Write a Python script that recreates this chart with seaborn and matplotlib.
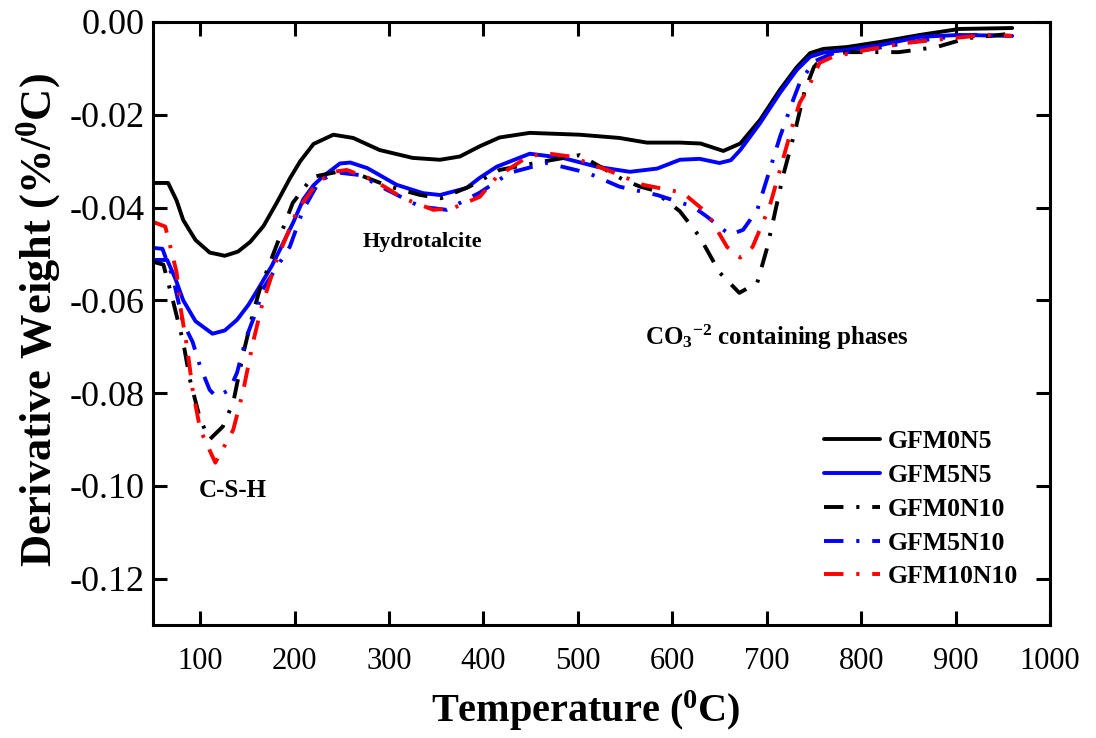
import matplotlib
matplotlib.use("Agg")
import matplotlib.pyplot as plt
import pandas as pd
import seaborn as sns

# ---------------- data ----------------
samples = ["GFM0N5", "GFM5N5", "GFM0N10", "GFM5N10", "GFM10N10"]

t_m0n5 = [50, 66, 75, 82, 95, 110, 126, 140, 153, 167, 181, 195, 206, 220, 241, 262,
          290, 325, 354, 375, 396, 417, 449, 502, 544, 573, 608, 630, 654, 672, 693,
          714, 732, 746, 760, 785, 820, 862, 904, 960]
dw_m0n5 = [-0.0347, -0.0347, -0.0385, -0.0427, -0.0470, -0.0497, -0.0504, -0.0495,
           -0.0474, -0.0440, -0.0390, -0.0337, -0.0300, -0.0263, -0.0243, -0.0250,
           -0.0276, -0.0293, -0.0297, -0.0290, -0.0268, -0.0249, -0.0239, -0.0243,
           -0.0250, -0.0260, -0.0260, -0.0262, -0.0278, -0.0262, -0.0211, -0.0146,
           -0.0097, -0.0067, -0.0058, -0.0054, -0.0043, -0.0028, -0.0015, -0.0013]

t_m5n5 = [50, 65, 74, 82, 95, 113, 126, 139, 151, 163, 176, 188, 199, 209, 220, 230,
          248, 259, 277, 308, 336, 354, 382, 396, 414, 449, 484, 520, 555, 584, 608,
          629, 650, 662, 672, 693, 714, 732, 746, 760, 785, 820, 862, 904, 960]
dw_m5n5 = [-0.0513, -0.0513, -0.0555, -0.0600, -0.0645, -0.0672, -0.0665, -0.0642,
           -0.0610, -0.0570, -0.0525, -0.0476, -0.0430, -0.0383, -0.0352, -0.0333,
           -0.0305, -0.0303, -0.0315, -0.0351, -0.0369, -0.0373, -0.0358, -0.0336,
           -0.0312, -0.0284, -0.0293, -0.0312, -0.0323, -0.0316, -0.0297, -0.0295,
           -0.0304, -0.0298, -0.0276, -0.0218, -0.0153, -0.0103, -0.0075, -0.0066,
           -0.0060, -0.0050, -0.0032, -0.0028, -0.0030]

t_m0n10 = [50, 61, 71, 82, 89, 100, 110, 124, 135, 145, 156, 163, 198, 219, 255, 301,
           333, 355, 385, 417, 460, 502, 548, 566, 579, 608, 629, 650, 671, 690, 700,
           707, 717, 730, 740, 750, 760, 785, 840, 880, 912, 960]
dw_m0n10 = [-0.0517, -0.0523, -0.0600, -0.0690, -0.0770, -0.0857, -0.0900, -0.0872,
            -0.0820, -0.0720, -0.0627, -0.0577, -0.0390, -0.0334, -0.0319, -0.0355,
            -0.0373, -0.0380, -0.0355, -0.0319, -0.0302, -0.0287, -0.0340, -0.0355,
            -0.0362, -0.0408, -0.0463, -0.0540, -0.0584, -0.0562, -0.0490, -0.0427,
            -0.0334, -0.0235, -0.0150, -0.0097, -0.0075, -0.0065, -0.0065, -0.0054,
            -0.0035, -0.0025]

t_m5n10 = [50, 60, 71, 82, 92, 100, 110, 117, 131, 139, 149, 160, 166, 195, 209, 227,
           248, 269, 298, 333, 361, 396, 428, 467, 510, 544, 584, 622, 637, 661, 675,
           690, 700, 714, 728, 735, 750, 770, 800, 840, 880, 920, 960]
dw_m5n10 = [-0.0487, -0.0489, -0.0550, -0.0649, -0.0690, -0.0743, -0.0793, -0.0808,
            -0.0793, -0.0756, -0.0679, -0.0620, -0.0577, -0.0484, -0.0405, -0.0340,
            -0.0325, -0.0330, -0.0362, -0.0398, -0.0405, -0.0368, -0.0325, -0.0304,
            -0.0325, -0.0355, -0.0373, -0.0398, -0.0420, -0.0459, -0.0448, -0.0405,
            -0.0340, -0.0248, -0.0168, -0.0131, -0.0085, -0.0068, -0.0062, -0.0048,
            -0.0035, -0.0028, -0.0030]

t_m10n10 = [50, 63, 71, 75, 79, 86, 92, 100, 116, 135, 145, 156, 165, 181, 203, 224,
            241, 255, 283, 315, 347, 368, 396, 414, 442, 463, 492, 531, 569, 611, 637,
            658, 672, 685, 703, 714, 728, 735, 743, 756, 770, 806, 848, 901, 933, 960]
dw_m10n10 = [-0.0431, -0.0441, -0.0506, -0.0540, -0.0614, -0.0700, -0.0793, -0.0879,
             -0.0950, -0.0879, -0.0800, -0.0690, -0.0614, -0.0513, -0.0405, -0.0347,
             -0.0323, -0.0319, -0.0340, -0.0380, -0.0405, -0.0401, -0.0377, -0.0334,
             -0.0297, -0.0282, -0.0290, -0.0319, -0.0351, -0.0368, -0.0412, -0.0485,
             -0.0508, -0.0485, -0.0398, -0.0319, -0.0218, -0.0174, -0.0146, -0.0088,
             -0.0075, -0.0060, -0.0045, -0.0034, -0.0028, -0.0030]

x_ticks = [100, 200, 300, 400, 500, 600, 700, 800, 900, 1000]
y_ticks = [0.00, -0.02, -0.04, -0.06, -0.08, -0.10, -0.12]

annotations = ["C-S-H", "Hydrotalcite", r"CO$_3$$^{-2}$ containing phases"]

# ---------------- styling ----------------
sns.set_style("ticks")
plt.rcParams["font.family"] = ["Liberation Serif", "DejaVu Serif"]
plt.rcParams.update({
    "mathtext.fontset": "custom",
    "mathtext.rm": "Liberation Serif:bold",
    "mathtext.it": "Liberation Serif:bold",
    "mathtext.bf": "Liberation Serif:bold",
    "mathtext.default": "bf",
    "axes.unicode_minus": False,
    "text.color": "black",
    "axes.labelcolor": "black",
    "xtick.color": "black",
    "ytick.color": "black",
    "axes.edgecolor": "black",
})

series = {
    "GFM0N5": (t_m0n5, dw_m0n5),
    "GFM5N5": (t_m5n5, dw_m5n5),
    "GFM0N10": (t_m0n10, dw_m0n10),
    "GFM5N10": (t_m5n10, dw_m5n10),
    "GFM10N10": (t_m10n10, dw_m10n10),
}
df = pd.concat([pd.DataFrame({"T": xs, "DW": ys, "sample": name})
                for name, (xs, ys) in series.items()], ignore_index=True)

palette = {"GFM0N5": "#000000", "GFM5N5": "#0000FF", "GFM0N10": "#000000",
           "GFM5N10": "#0000FF", "GFM10N10": "#FF0000"}
dd = (5.0, 3.3, 0.8, 3.3)
dashes = {"GFM0N5": "", "GFM5N5": "", "GFM0N10": dd, "GFM5N10": dd, "GFM10N10": dd}

fig = plt.figure(figsize=(10.96, 7.38), dpi=100)
ax = fig.add_axes([0.1396, 0.1531, 0.8184, 0.8171])

sns.lineplot(data=df, x="T", y="DW", hue="sample", style="sample",
             hue_order=samples, style_order=samples, palette=palette,
             dashes=dashes, sort=False, estimator=None, linewidth=2.8, ax=ax)

ax.set_xlim(50, 1000)
ax.set_ylim(-0.13, 0.0)
ax.set_xticks(x_ticks)
ax.set_yticks(y_ticks)
ax.set_yticklabels([f"{v:.2f}" for v in y_ticks])

for s in ax.spines.values():
    s.set_linewidth(2.2)
    s.set_color("black")
ax.tick_params(axis="both", which="major", direction="in", length=10, width=2.2,
               top=True, right=True, color="black", labelcolor="black")
ax.tick_params(axis="x", labelsize=22, pad=16)
ax.tick_params(axis="y", labelsize=26, pad=6)

ax.set_xlabel(r"Temperature ($^{0}$C)", fontsize=29, fontweight="bold")
ax.set_ylabel(r"Derivative Weight (%/$^{0}$C)", fontsize=32, fontweight="bold")
ax.xaxis.set_label_coords(0.483, -0.105)
ax.yaxis.set_label_coords(-0.100, 0.505)

ax.text(134, -0.101, annotations[0], fontsize=18, fontweight="bold", ha="center", va="center")
ax.text(335, -0.0474, annotations[1], fontsize=16, fontweight="bold", ha="center", va="center")
ax.text(571, -0.068, annotations[2], fontsize=18, fontweight="bold", ha="left", va="center")

sns.move_legend(ax, "upper left", bbox_to_anchor=(0.748, 0.323), title=None,
                frameon=False, prop={"weight": "bold", "size": 18.5},
                handlelength=2.2, handletextpad=0.3, labelspacing=0.42,
                borderpad=0, borderaxespad=0)

fig.savefig("out.png", dpi=100)
